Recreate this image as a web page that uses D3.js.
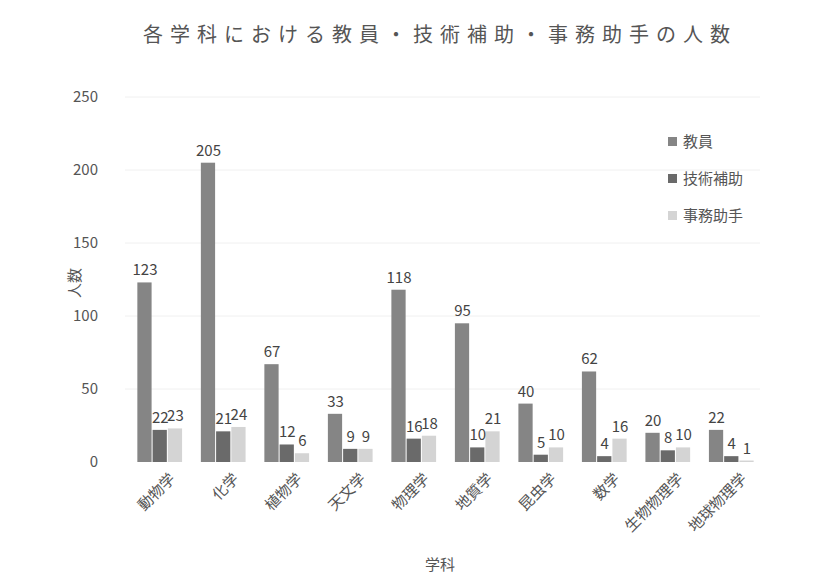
<!DOCTYPE html>
<html><head><meta charset="utf-8">
<script src="https://cdn.jsdelivr.net/npm/d3@7"></script>
<style>body{margin:0;background:#fff;font-family:"Noto Sans CJK JP","Noto Sans",sans-serif;}</style>
</head><body><svg id="c" width="823" height="582"></svg>
<script>
const categories = ["動物学","化学","植物学","天文学","物理学","地質学","昆虫学","数学","生物物理学","地球物理学"];
const seriesNames = ["教員","技術補助","事務助手"];
const faculty = [123,205,67,33,118,95,40,62,20,22];
const technical = [22,21,12,9,16,10,5,4,8,4];
const office = [23,24,6,9,18,21,10,16,10,1];
const yTicks = [0,50,100,150,200,250];
const colors = ["#858585","#6a6a6a","#d4d4d4"];

const svg = d3.select("#c");
const F = "'Noto Sans CJK JP','Noto Sans',sans-serif";
const x0 = d3.scaleBand().domain(categories).range([131,761]).paddingInner(0.28).paddingOuter(0.1);
const x1 = d3.scaleBand().domain(seriesNames).range([0,x0.bandwidth()]);
const y = d3.scaleLinear().domain([0,250]).range([462,97]);
const data = [faculty, technical, office];

// gridlines
svg.append("g").selectAll("line").data(yTicks.slice(1)).join("line")
  .attr("x1",125).attr("x2",760).attr("y1",d=>y(d)).attr("y2",d=>y(d))
  .attr("stroke","#f0f0f0");

// y axis
const ya = svg.append("g").attr("transform","translate(106,0)")
  .call(d3.axisLeft(y).tickValues(yTicks).tickSize(0).tickPadding(8));
ya.select(".domain").remove();
ya.selectAll("text").attr("font-size",15).attr("fill","#555").attr("font-family",F);

// x axis
const xa = svg.append("g").attr("transform","translate(0,468)")
  .call(d3.axisBottom(x0).tickSize(0).tickPadding(6));
xa.select(".domain").remove();
xa.selectAll("text").attr("font-size",15).attr("fill","#555").attr("font-family",F)
  .attr("text-anchor","end").attr("dx","0.2em").attr("dy","0.9em")
  .attr("transform","rotate(-45)");

// bars
const groups = svg.append("g").selectAll("g").data(categories).join("g")
  .attr("transform",d=>`translate(${x0(d)},0)`);
groups.selectAll("rect").data((c,i)=>seriesNames.map((s,k)=>({s,k,v:data[k][i]}))).join("rect")
  .attr("x",d=>x1(d.s)).attr("width",x1.bandwidth()-1)
  .attr("y",d=>y(d.v)).attr("height",d=>y(0)-y(d.v))
  .attr("fill",d=>colors[d.k]);
groups.selectAll("text").data((c,i)=>seriesNames.map((s,k)=>({s,k,v:data[k][i]}))).join("text")
  .attr("x",d=>x1(d.s)+x1.bandwidth()/2).attr("y",d=>y(d.v)-7)
  .attr("text-anchor","middle").attr("font-size",15).attr("fill","#444").attr("font-family",F)
  .text(d=>d.v);

// title
svg.append("text").attr("x",440).attr("y",42).attr("text-anchor","middle")
  .attr("font-size",20).attr("letter-spacing","7px").attr("fill","#555").attr("font-family",F)
  .text("各学科における教員・技術補助・事務助手の人数");
// axis titles
svg.append("text").attr("x",440).attr("y",570).attr("text-anchor","middle")
  .attr("font-size",15).attr("fill","#555").attr("font-family",F).text("学科");
svg.append("text").attr("transform","translate(80,283) rotate(-90)").attr("text-anchor","middle")
  .attr("font-size",15).attr("fill","#555").attr("font-family",F).text("人数");

// legend
const lg = svg.append("g").selectAll("g").data(seriesNames).join("g")
  .attr("transform",(d,i)=>`translate(668,${142+i*37})`);
lg.append("rect").attr("x",0).attr("y",-5).attr("width",9).attr("height",9).attr("fill",(d,i)=>colors[i]);
lg.append("text").attr("x",15).attr("y",0).attr("dy","0.35em").attr("font-size",15)
  .attr("fill","#555").attr("font-family",F).text(d=>d);
</script></body></html>
